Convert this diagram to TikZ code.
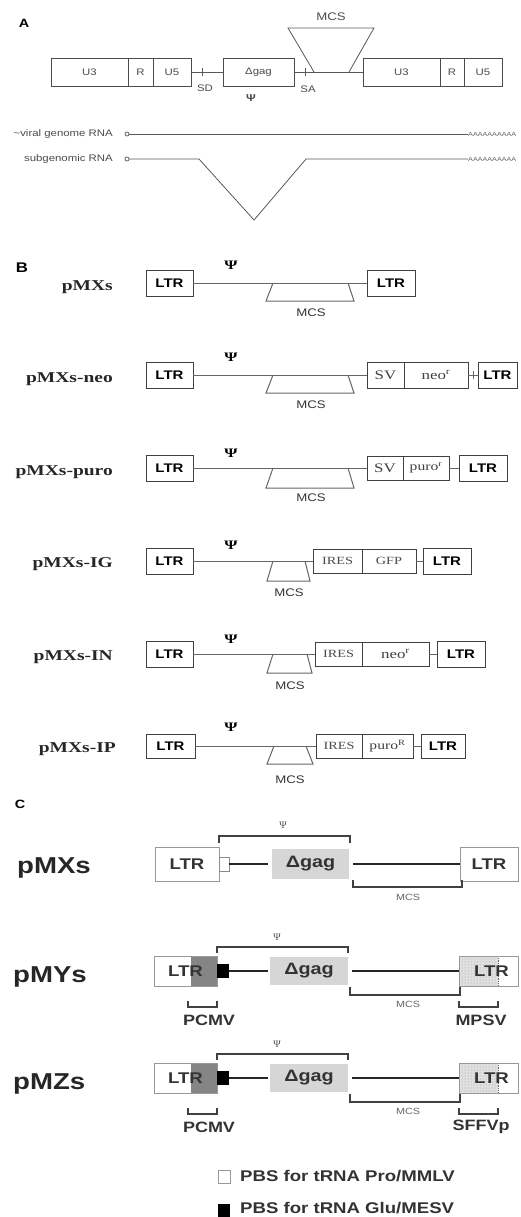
\documentclass[tikz,border=0pt]{standalone}
\usepackage{fontspec}
\setmainfont{Liberation Serif}
\setsansfont{Liberation Sans}
\newfontfamily\csans[FakeStretch=1.2]{Liberation Sans}
\newfontfamily\wserif[FakeStretch=1.3]{Liberation Serif}
\usetikzlibrary{patterns}
\newcommand\mybox[7][]{\node[#1, minimum width={(#5-#3)*1pt}, minimum height={(#6-#4)*1pt}] (#2) at ({(#3+#5)/2},{(#4+#6)/2}) {#7};}
\tikzset{
  atext/.style={font=\csans\fontsize{9.5}{11}\selectfont, text=black!70, inner sep=0},
  abox/.style={draw=black!70, line width=0.8pt, inner sep=0, outer sep=0, font=\csans\fontsize{9.5}{11}\selectfont, text=black!70},
  aline/.style={draw=black!65, line width=0.8pt},
  panlab/.style={font=\csans\bfseries\fontsize{12}{14}\selectfont, inner sep=0},
  blabel/.style={font=\wserif\bfseries\fontsize{15}{17}\selectfont, inner sep=0, text=black!85},
  bbox/.style={draw=black!75, line width=0.9pt, inner sep=0, outer sep=0, font=\csans\bfseries\fontsize{12.5}{14}\selectfont},
  bline/.style={draw=black!60, line width=1pt},
  bpsi/.style={font=\wserif\bfseries\fontsize{13}{14}\selectfont, inner sep=0},
  bmcs/.style={font=\csans\fontsize{11}{12}\selectfont, inner sep=0, text=black!80},
  bser/.style={font=\wserif\fontsize{13}{14}\selectfont, text=black!75},
  bsml/.style={font=\wserif\fontsize{11}{12}\selectfont, text=black!70},
  clabel/.style={font=\csans\bfseries\fontsize{23}{26}\selectfont, inner sep=0, text=black!85},
  cltr/.style={draw=black!40, line width=0.9pt, fill=white, inner sep=0, outer sep=0, font=\csans\bfseries\fontsize{15.5}{18}\selectfont, text=black!80},
  cgag/.style={fill=black!16, inner sep=0, outer sep=0, font=\csans\bfseries\fontsize{16.5}{18}\selectfont, text=black!80},
  cline/.style={draw=black!85, line width=1.8pt},
  brk/.style={draw=black!75, line width=1.1pt},
  cpsi/.style={font=\rmfamily\fontsize{10}{11}\selectfont, inner sep=0, text=black!70},
  cmcs/.style={font=\csans\fontsize{9}{10}\selectfont, inner sep=0, text=black!60},
  cplab/.style={font=\csans\bfseries\fontsize{15}{18}\selectfont, inner sep=0, text=black!80},
  cleg/.style={font=\csans\bfseries\fontsize{15.5}{18}\selectfont, inner sep=0, text=black!80},
  polya/.style={font=\csans\fontsize{6}{7}\selectfont, inner sep=0, text=black!60},
  rnadot/.style={circle, draw=black!65, line width=0.7pt, inner sep=0, minimum size=4pt, outer sep=0}
}
\newcommand\crow[4]{%
\begin{scope}[shift={(0,#2)}]
  \node[clabel, anchor=base west] (#1lab) at (13,982) {#4};
  \mybox[cltr, path picture={\fill[black!48] ([xshift=-26pt]path picture bounding box.north east) rectangle (path picture bounding box.south east);}]{#1l}{154}{956}{217}{986}{LTR}
  \mybox[fill=black, inner sep=0, outer sep=0]{#1p}{217}{964}{229}{978}{}
  \mybox[cgag]{#1g}{270}{957}{348}{985}{Δgag}
  \mybox[cltr, path picture={\fill[black!12] (path picture bounding box.north west) rectangle ([xshift=39pt]path picture bounding box.south west); \fill[pattern=dots, pattern color=black!40] (path picture bounding box.north west) rectangle ([xshift=39pt]path picture bounding box.south west); \draw[densely dotted, black!60, line width=0.8pt] ([xshift=39pt]path picture bounding box.north west) -- ([xshift=39pt]path picture bounding box.south west);}]{#1r}{459}{956}{518}{986}{\hspace*{6pt}LTR}
  \draw[cline, shorten >=2pt] (#1p.east) -- (#1g.west);
  \draw[cline, shorten <=4pt] (#1g.east) -- (#1r.west);
  \draw[brk] (217,953) -- (217,947) -- (348,947) -- (348,953);
  \node[cpsi] (#1psi) at (277,937) {Ψ};
  \draw[brk] (350,987) -- (350,995) -- (460,995) -- (460,987);
  \node[cmcs] (#1mcs) at (408,1004) {MCS};
  \draw[brk] (188,1001) -- (188,1007) -- (217,1007) -- (217,1001);
  \node[cplab] (#1pc) at (209,1020) {PCMV};
  \draw[brk] (459,1001) -- (459,1007) -- (498,1007) -- (498,1001);
  \node[cplab] (#1pr) at (481,1020) {#3};
\end{scope}}
\begin{document}
\begin{tikzpicture}[x=1pt,y=-1pt]
\useasboundingbox[fill=white] (0,0) rectangle (520,1217);
% ---------------- Panel A
\node[panlab] (labA) at (24,23) {A};
\mybox[abox]{aU3}{51}{58}{128}{86}{U3}
\mybox[abox]{aR}{128}{58}{153}{86}{R}
\mybox[abox]{aU5}{153}{58}{191}{86}{U5}
\mybox[abox]{agag}{223}{58}{294}{86}{Δgag}
\mybox[abox]{bU3}{363}{58}{440}{86}{U3}
\mybox[abox]{bR}{440}{58}{464}{86}{R}
\mybox[abox]{bU5}{464}{58}{502}{86}{U5}
\draw[aline] (aU5.east) -- (agag.west);
\draw[aline] (agag.east) -- (bU3.west);
\draw[aline] (202,68) -- (202,76);
\draw[aline] (305,68) -- (305,76);
\node[atext] (sd) at (205,88) {SD};
\node[atext] (sa) at (308,89) {SA};
\draw[aline] (314,72) -- (288,28) -- (374,28) -- (349,72);
\node[atext, font=\csans\fontsize{11}{12}\selectfont] (amcs) at (331,17) {MCS};
\node[atext, font=\csans\bfseries\fontsize{10}{11}\selectfont] (apsi) at (251,98) {Ψ};
\node[atext, anchor=east] (vlab) at (113,134) {\textasciitilde viral genome RNA};
\node[rnadot] (v0) at (127,134) {};
\node[polya, anchor=west] (vA) at (468,134) {AAAAAAAAAA};
\draw[aline] (v0) -- (vA.west);
\node[atext, anchor=east] (slab) at (113,159) {subgenomic RNA};
\node[rnadot] (s0) at (127,159) {};
\node[polya, anchor=west] (sA) at (468,159) {AAAAAAAAAA};
\coordinate (s1) at (199,159);
\coordinate (s2) at (254,220);
\coordinate (s3) at (306,159);
\draw[aline] (s0) -- (s1) -- (s2) -- (s3) -- (sA.west);
% ---------------- Panel B
\node[panlab, font=\csans\bfseries\fontsize{14}{15}\selectfont] (labB) at (22,268) {B};
% row 1
\node[blabel, anchor=base east] (l1) at (113,290) {pMXs};
\mybox[bbox]{r1a}{146}{270}{193}{296}{LTR}
\mybox[bbox]{r1b}{367}{270}{415}{296}{LTR}
\draw[bline] (r1a) -- (r1b);
\node[bpsi] (p1) at (231,265) {Ψ};
\draw[bline] (273,283) -- (266,301) -- (354,301) -- (348,283);
\node[bmcs] (m1) at (311,313) {MCS};
% row 2
\node[blabel, anchor=base east] (l2) at (113,382) {pMXs-neo};
\mybox[bbox]{r2a}{146}{362}{193}{388}{LTR}
\mybox[bbox,bser]{r2s}{367}{362}{404}{388}{SV}
\mybox[bbox,bser]{r2n}{404}{362}{468}{388}{neo\textsuperscript{r}}
\mybox[bbox]{r2b}{478}{362}{517}{388}{LTR}
\draw[bline] (r2a) -- (r2s);
\draw[bline] (r2n) -- (r2b);
\draw[bline] (473,371) -- (473,379);
\node[bpsi] (p2) at (231,357) {Ψ};
\draw[bline] (273,375) -- (266,393) -- (354,393) -- (348,375);
\node[bmcs] (m2) at (311,405) {MCS};
% row 3
\node[blabel, anchor=base east] (l3) at (113,475) {pMXs-puro};
\mybox[bbox]{r3a}{146}{455}{193}{481}{LTR}
\mybox[bbox,bser]{r3s}{367}{456}{403}{480}{SV}
\mybox[bbox,bser,font=\wserif\fontsize{12}{13}\selectfont]{r3n}{403}{456}{449}{480}{puro\textsuperscript{r}}
\mybox[bbox]{r3b}{459}{455}{507}{481}{LTR}
\draw[bline] (r3a) -- (r3s);
\draw[bline] (r3n) -- (r3b);
\node[bpsi] (p3) at (231,453) {Ψ};
\draw[bline] (273,468) -- (266,488) -- (354,488) -- (348,468);
\node[bmcs] (m3) at (311,498) {MCS};
% row 4
\node[blabel, anchor=base east] (l4) at (113,567) {pMXs-IG};
\mybox[bbox]{r4a}{146}{548}{193}{574}{LTR}
\mybox[bbox,bsml]{r4s}{313}{549}{362}{573}{IRES}
\mybox[bbox,bsml]{r4n}{362}{549}{416}{573}{GFP}
\mybox[bbox]{r4b}{423}{548}{471}{574}{LTR}
\draw[bline] (r4a) -- (r4s);
\draw[bline] (r4n) -- (r4b);
\node[bpsi] (p4) at (231,545) {Ψ};
\draw[bline] (273,561) -- (267,581) -- (310,581) -- (305,561);
\node[bmcs] (m4) at (289,593) {MCS};
% row 5
\node[blabel, anchor=base east] (l5) at (113,660) {pMXs-IN};
\mybox[bbox]{r5a}{146}{641}{193}{667}{LTR}
\mybox[bbox,bsml]{r5s}{315}{642}{362}{666}{IRES}
\mybox[bbox,bser]{r5n}{362}{642}{429}{666}{neo\textsuperscript{r}}
\mybox[bbox]{r5b}{437}{641}{485}{667}{LTR}
\draw[bline] (r5a) -- (r5s);
\draw[bline] (r5n) -- (r5b);
\node[bpsi] (p5) at (231,639) {Ψ};
\draw[bline] (273,654) -- (267,673) -- (312,673) -- (307,654);
\node[bmcs] (m5) at (290,686) {MCS};
% row 6
\node[blabel, anchor=base east] (l6) at (116,752) {pMXs-IP};
\mybox[bbox]{r6a}{146}{734}{195}{758}{LTR}
\mybox[bbox,bsml]{r6s}{316}{734}{362}{758}{IRES}
\mybox[bbox,bser,font=\wserif\fontsize{12}{13}\selectfont]{r6n}{362}{734}{413}{758}{puro\textsuperscript{R}}
\mybox[bbox]{r6b}{421}{734}{465}{758}{LTR}
\draw[bline] (r6a) -- (r6s);
\draw[bline] (r6n) -- (r6b);
\node[bpsi] (p6) at (231,727) {Ψ};
\draw[bline] (274,746) -- (267,764) -- (313,764) -- (306,746);
\node[bmcs] (m6) at (290,780) {MCS};
% ---------------- Panel C
\node[panlab] (labC) at (20,804) {C};
\node[clabel, anchor=base west] (c1lab) at (17,873) {pMXs};
\mybox[cltr]{c1l}{155}{847}{219}{881}{LTR}
\mybox[draw=black!45, fill=white, line width=0.8pt, inner sep=0, outer sep=0]{c1p}{219}{857}{229}{871}{}
\mybox[cgag]{c1g}{272}{849}{349}{879}{Δgag}
\mybox[cltr]{c1r}{460}{847}{518}{881}{LTR}
\draw[cline, shorten >=4pt] (c1p.east) -- (c1g.west);
\draw[cline, shorten <=4pt] (c1g.east) -- (c1r.west);
\draw[brk] (219,843) -- (219,836) -- (350,836) -- (350,843);
\node[cpsi] (c1psi) at (283,825) {Ψ};
\draw[brk] (353,880) -- (353,887) -- (462,887) -- (462,880);
\node[cmcs] (c1mcs) at (408,897) {MCS};
\crow{c2}{0}{MPSV}{pMYs}
\crow{c3}{107}{SFFVp}{pMZs}
% legend
\mybox[draw=black!40, fill=white, line width=0.8pt, inner sep=0, outer sep=0]{lg1}{218}{1170}{230}{1183}{}
\node[cleg, anchor=west] (lt1) at (240,1176.5) {PBS for tRNA Pro/MMLV};
\mybox[fill=black, inner sep=0, outer sep=0]{lg2}{218}{1204}{230}{1217}{}
\node[cleg, anchor=west] (lt2) at (240,1208.5) {PBS for tRNA Glu/MESV};
\end{tikzpicture}
\end{document}
